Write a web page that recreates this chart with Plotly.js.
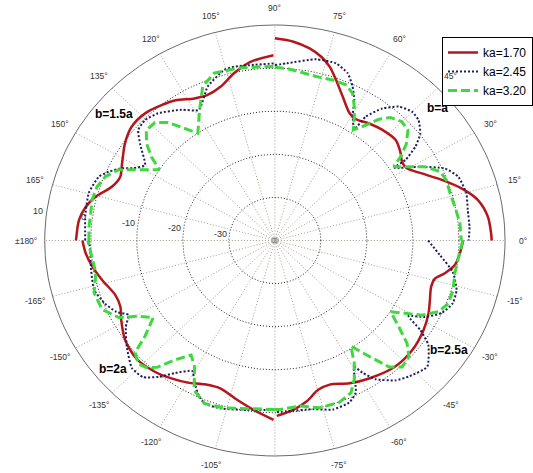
<!DOCTYPE html>
<html>
<head>
<meta charset="utf-8">
<script src="https://cdn.plot.ly/plotly-3.0.1.min.js"></script>
<style>html,body{margin:0;padding:0;background:#fff;}#chart{width:533px;height:473px;}</style>
</head>
<body>
<div id="chart"></div>
<script>
// ---- data (angle in degrees, level in dB); null separates quadrants (b differs per quadrant)
const seriesNames = ['ka=1.70', 'ka=2.45', 'ka=3.20'];

const redAngles = [
  90, 85, 80.4, 76.7, 73.5, 70.3, 66.2, 61.2, 57.9, 53, 47.7, 41.6, 36.5, 33.5, 30.3, 26, 21.2, 16.6, 12, 6.8, 2, 0, null,
  0, -4.2, -8.3, -11.6, -14.2, -17.5, -22.3, -26.8, -32.8, -40.4, -48.5, -57.4, -63.9, -70.4, -74.8, -79.6, -84.2, -89.4, null,
  -90.4, -96.6, -102.4, -108.9, -114.6, -119.8, -125.1, -130.6, -137.5, -144.6, -151.2, -155.4, -160, -166.2, -171.3, -175.9, -180, null,
  180, 173.6, 169.2, 165.3, 160.5, 156.2, 151.7, 145.3, 139.7, 133.7, 128.1, 123.5, 117.9, 113.4, 108.2, 102.9, 97.3, 90.4
];
const redDb = [
  6.9, 6.3, 5.2, 3.8, 2.0, -0.5, -3.5, -6.3, -6.8, -6.0, -5.3, -4.9, -6.0, -6.9, -6.8, -4.5, -1.1, 2.3, 5.1, 6.6, 7.0, 7.1, null,
  0.9, 0.3, -0.5, -2.3, -4.1, -4.4, -3.6, -2.6, -1.6, -0.8, -0.8, -2.0, -3.1, -4.5, -4.1, -2.0, -0.5, 0.7, null,
  1.6, -0.4, -2.1, -3.7, -3.3, -2.0, -0.9, 0.1, 0.7, -0.1, -1.9, -3.1, -3.1, -1.4, 0.1, 1.2, 1.8, null,
  3.2, 2.8, 1.8, 0.2, -2.5, -3.3, -2.3, -0.4, 0.8, 0.8, -0.1, -1.0, -2.7, -3.2, -2.4, -0.2, 1.8, 3.0
];

const navyAngles = [
  90, 86.4, 77.9, 72.1, 67.8, 64.7, 62.1, 59.9, 56.3, 55.5, 52.7, 49.1, 45.1, 41.9, 38.2, 35.5, 33.4, 33.0, 28.7, 24.4, 20.4, 14.7, 9.6, 4.3, 0, null,
  0, -5.4, -10.6, -16.2, -20.6, -24.8, -28.6, -31.1, -33.3, -36.0, -41.5, -47.4, -51.1, -55.8, -58.2, -59.6, -63.5, -66.7, -72.2, -78.0, -86.3, -90, null,
  -90.4, -98.7, -106.8, -112.0, -115.3, -118.4, -120.7, -125.3, -128.6, -132.1, -136.4, -142.6, -148.2, -151.5, -154.3, -158.3, -163.7, -170.3, -176.9, -180, null,
  180, 171.8, 164.8, 158.8, 156.2, 153.2, 151.4, 148.2, 142.8, 139.2, 135.3, 130.6, 123.8, 118.6, 112.2, 105.5, 102.4, 96.4, 90
];
const navyDb = [
  0.7, 1.2, 3.0, 3.2, 1.9, -0.5, -3.1, -6.3, -8.9, -5.1, -1.5, 1.1, 2.2, 1.9, 0.2, -2.5, -6.0, -9.0, -4.4, 0.5, 2.5, 3.0, 2.5, 2.4, 2.1, null,
  -6.7, -4.0, -0.7, 1.1, 1.3, 0.0, -2.9, -6.1, -2.2, 1.2, 4.2, 2.9, 1.7, -1.1, -3.9, -6.0, -0.6, 0.9, 1.2, 0.0, -0.3, -0.2, null,
  -0.7, -0.2, 0.7, 0.8, -0.8, -3.2, -4.8, -2.3, 0.5, 2.7, 2.9, 0.5, -1.9, -3.8, -1.8, -0.3, 0.9, 0.5, 0.2, 0.4, null,
  1.2, 1.6, 1.9, 1.0, -0.5, -2.8, -5.0, -6.8, -3.3, -0.8, -0.3, -1.1, -3.5, -5.5, -1.4, 1.1, 1.3, 1.0, 1.1
];

const greenAngles = [
  90, 86.3, 82.1, 76.7, 71.3, 66.8, 63.7, 60.9, 58.7, 56.4, 53.5, 51.2, 48.7, 45.0, 41.5, 38, 35.4, 33.6, 31.1, 27.7, 24.0, 20.6, 16.1, 11.3, 5.7, 0, null,
  0, -6.5, -11.0, -16.5, -21.2, -24.9, -28.5, -30.8, -33.3, -36.6, -39.7, -42.8, -46.7, -49.8, -51.7, -53.8, -56.0, -58.7, -61.8, -64.9, -69.6, -75.9, -82.0, -88.3, -90, null,
  -90, -98.8, -105.8, -112.0, -116.8, -120.8, -124.4, -128.2, -131, -133.5, -136, -139.4, -141.8, -145.9, -149.3, -152.2, -156.9, -162.9, -169.1, -176.0, -180, null,
  180, 175.5, 171.0, 166.7, 162.1, 158.1, 154.2, 151.6, 146.8, 144.1, 141.1, 137.5, 133.6, 130.3, 127.1, 123.9, 118.4, 113.7, 108.8, 101.5, 93.5, 90
];
const greenDb = [
  0.2, 0.0, -0.5, -0.9, -0.7, -0.7, -1.9, -4.5, -6.8, -9.2, -6.7, -3.9, -2.0, -1.0, -1.4, -3.8, -6.5, -9.0, -6.9, -3.2, -0.7, -0.2, -0.4, -0.1, 0.4, 0.5, null,
  0.8, 0.1, -0.2, 0.4, 0.4, -0.8, -3.7, -7.0, -9.9, -6.5, -2.7, -0.3, 0.3, -1.6, -4.7, -7.7, -10.5, -6.8, -3.5, -1.0, 0.1, 0.0, -1.2, -0.8, -0.8, null,
  -0.8, -0.6, 0.4, 0.8, -1.1, -5.9, -7.8, -4.7, -1.0, 0.6, 1.2, 0.0, -4.1, -8.1, -5.6, -1.7, 0.8, 1.1, -0.4, 0.1, 0.6, null,
  0.4, 0.5, 0.5, 0.8, 0.6, -0.3, -2.3, -5.5, -10.0, -6.9, -4.2, -2.1, -2.2, -4.1, -7.5, -10.0, -5.6, -1.0, 1.0, 0.8, 0.4, 0.4
];

// radial axis (dB) and angular ticks
const rMin = -40;
const ringDb = [-30, -20, -10, 0];
const outerDb = 10;
const radialTickDb = [-30, -20, -10, 0, 10];
const radialTickText = ['-30', '-20', '-10', '0', '10'];
const spokeAngles = [0, 15, 30, 45, 60, 75, 90, 105, 120, 135, 150, 165, 180, 195, 210, 225, 240, 255, 270, 285, 300, 315, 330, 345];
const angleTickDeg = [0, 15, 30, 45, 60, 75, 90, 105, 120, 135, 150, 165, 180, -165, -150, -135, -120, -105, -90, -75, -60, -45, -30, -15];
const angleTickText = ['0°', '15°', '30°', '45°', '60°', '75°', '90°', '105°', '120°', '135°', '150°', '165°', '±180°',
  '-165°', '-150°', '-135°', '-120°', '-105°', '-90°', '-75°', '-60°', '-45°', '-30°', '-15°'];
const labels = ['b=a', 'b=1.5a', 'b=2a', 'b=2.5a'];

// ---- helpers: polar (deg, dB) -> axis coordinates
const d2r = Math.PI / 180;
function toXY(angles, db) {
  const x = [], y = [];
  for (let i = 0; i < angles.length; i++) {
    if (angles[i] === null || db[i] === null) { x.push(null); y.push(null); continue; }
    const rho = db[i] - rMin;
    x.push(rho * Math.cos(angles[i] * d2r));
    y.push(rho * Math.sin(angles[i] * d2r));
  }
  return {x, y};
}
function circle(db) {
  const a = [], d = [];
  for (let t = 0; t <= 360; t += 2) { a.push(t); d.push(db); }
  return toXY(a, d);
}

const traces = [];
// spokes
spokeAngles.forEach(a => {
  const p = toXY([a, a], [rMin, outerDb]);
  traces.push({x: p.x, y: p.y, mode: 'lines', hoverinfo: 'skip', showlegend: false,
    line: {color: '#a29e8e', width: 1, dash: '1px,2px'}});
});
// rings
ringDb.forEach(r => {
  const p = circle(r);
  traces.push({x: p.x, y: p.y, mode: 'lines', hoverinfo: 'skip', showlegend: false,
    line: {color: '#222', width: 1, dash: '1px,2px'}});
});
// outer boundary
{
  const p = circle(outerDb);
  traces.push({x: p.x, y: p.y, mode: 'lines', hoverinfo: 'skip', showlegend: false,
    line: {color: '#6a6a6a', width: 1}});
}
// center marker
traces.push({x: [0], y: [0], mode: 'markers', hoverinfo: 'skip', showlegend: false,
  marker: {symbol: 'square-open', size: 4, color: '#888', line: {width: 1}}});

// data curves
const pr = toXY(redAngles, redDb);
traces.push({x: pr.x, y: pr.y, name: seriesNames[0], mode: 'lines', legendrank: 1,
  line: {color: '#b5161c', width: 2.5, shape: 'spline', smoothing: 0.8}});
const pn = toXY(navyAngles, navyDb);
traces.push({x: pn.x, y: pn.y, name: seriesNames[1], mode: 'lines', legendrank: 2,
  line: {color: '#1e1e5c', width: 2, dash: '2px,2px', shape: 'spline', smoothing: 0.5}});
const pg = toXY(greenAngles, greenDb);
traces.push({x: pg.x, y: pg.y, name: seriesNames[2], mode: 'lines', legendrank: 3,
  line: {color: '#3fd83f', width: 3, dash: '9px,4px'}});

// annotations
const ann = [];
const labelRho = 54 + rMin; // angle labels sit at rho = 54 (dB value 14)
angleTickDeg.forEach((a, i) => {
  const p = toXY([a], [labelRho]);
  ann.push({x: p.x[0], y: p.y[0], xref: 'x', yref: 'y', text: angleTickText[i], showarrow: false,
    xanchor: 'center', yanchor: 'middle', font: {family: 'Liberation Sans, Arial, sans-serif', size: 8.5, color: '#333'}});
});
radialTickDb.forEach((r, i) => {
  const p = toXY([172.5], [r + 2]);
  ann.push({x: p.x[0], y: p.y[0], xref: 'x', yref: 'y', text: radialTickText[i], showarrow: false,
    xanchor: 'center', yanchor: 'middle', font: {family: 'Liberation Sans, Arial, sans-serif', size: 9, color: '#333'}});
});
const labelPos = [[442.5, 108], [115, 114], [114.5, 369], [454, 350]];
labels.forEach((t, i) => {
  ann.push({x: labelPos[i][0] / 533, y: 1 - labelPos[i][1] / 473, xref: 'paper', yref: 'paper', text: '<b>' + t + '</b>',
    showarrow: false, xanchor: 'center', yanchor: 'middle',
    font: {family: 'Liberation Sans, Arial, sans-serif', size: 12, color: '#000'}});
});

const layout = {
  width: 533, height: 473,
  margin: {l: 0, r: 0, t: 0, b: 0},
  paper_bgcolor: '#fff', plot_bgcolor: '#fff',
  xaxis: {range: [-278 / 4.656, (533 - 278) / 4.656], visible: false, fixedrange: true},
  yaxis: {range: [-(473 - 240.5) / 4.31, 240.5 / 4.31], visible: false, fixedrange: true},
  showlegend: true,
  legend: {x: 447 / 533, y: 1 - 37 / 473, xanchor: 'left', yanchor: 'top', bgcolor: '#fff',
    bordercolor: '#000', borderwidth: 1, font: {family: 'Liberation Sans, Arial, sans-serif', size: 12, color: '#000'},
    tracegroupgap: 0, itemwidth: 30},
  annotations: ann
};

Plotly.newPlot('chart', traces, layout, {staticPlot: true, displayModeBar: false});
</script>
</body>
</html>
